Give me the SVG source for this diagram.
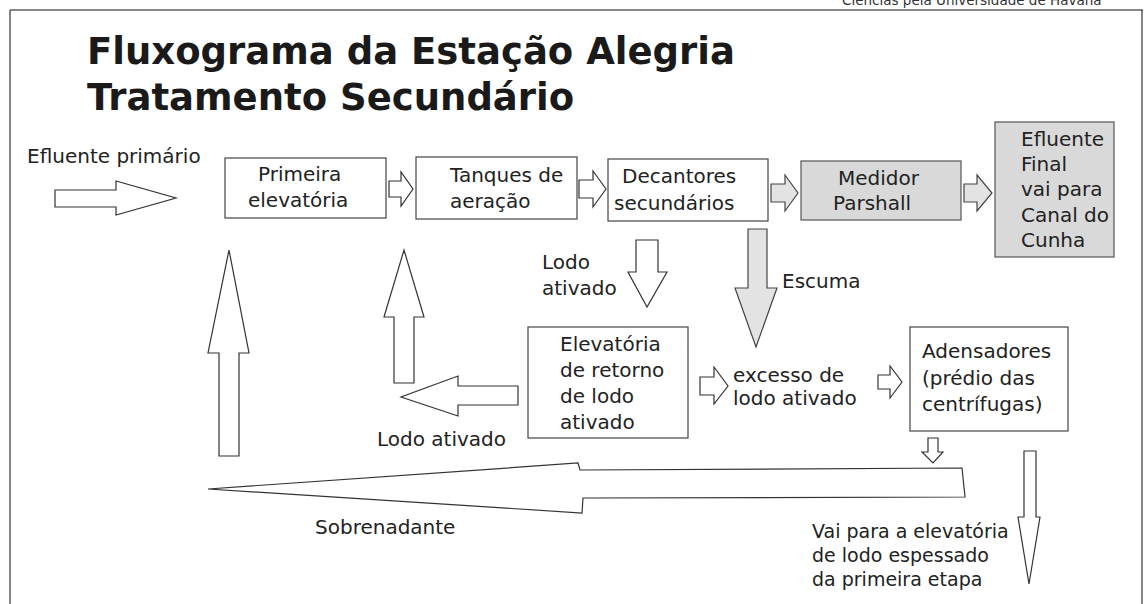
<svg xmlns="http://www.w3.org/2000/svg" width="1147" height="604" viewBox="0 0 1147 604">
<style>
text{font-family:"DejaVu Sans","Liberation Sans",sans-serif;fill:#222;font-size:20px}
.title{font-weight:bold;font-size:37px;fill:#1a1a1a}
.box{fill:#fff;stroke:#444;stroke-width:1.2}
.gbox{fill:#d9d9d9;stroke:#555;stroke-width:1.2}
.arr{fill:#fff;stroke:#333;stroke-width:1.2;stroke-linejoin:miter}
.garr{fill:#e3e3e3;stroke:#444;stroke-width:1.2}
.sm{font-size:19px}
.hdr{font-size:13.5px;fill:#333}
</style>
<rect width="1147" height="604" fill="#fff"/>
<g id="frame">
<line x1="10" y1="10" x2="1143" y2="10" stroke="#888" stroke-width="2"/>
<line x1="10" y1="10" x2="10" y2="604" stroke="#333" stroke-width="1.2"/>
<line x1="1142" y1="10" x2="1142" y2="604" stroke="#333" stroke-width="1.2"/>
<text class="hdr" x="842" y="4.5">Ciências pela Universidade de Havana</text>
</g>
<g id="title">
<text class="title" x="87" y="64">Fluxograma da Estação Alegria</text>
<text class="title" x="87" y="110">Tratamento Secundário</text>
</g>
<g id="connectors">
<polygon class="arr" points="55,190 116,190 116,181 176,198 116,215 116,207 55,207"/>
<polygon class="arr" points="389,181 401,181 401,172 413,189 401,206 401,197 389,197"/>
<polygon class="arr" points="579,180 593,180 593,171 606,189 593,207 593,198 579,198"/>
<polygon class="garr" points="771,184 785,184 785,175 798,193 785,211 785,202 771,202"/>
<polygon class="garr" points="964,184 977,184 977,175 992,193 977,211 977,202 964,202"/>
<polygon class="arr" points="636,240 658,240 658,272 667,272 647,307 628,272 636,272"/>
<polygon class="garr" points="748,229 767,229 767,288 777,288 756,347 735,288 748,288"/>
<polygon class="arr" points="219,456 219,353 208,353 229,250 249,353 239,353 239,456"/>
<polygon class="arr" points="394,383 394,317 384,317 404,250 424,317 414,317 414,383"/>
<polygon class="arr" points="518,386 458,386 458,376 401,397 458,416 458,405 518,405"/>
<polygon class="arr" points="700,377 714,377 714,367 728,386 714,404 714,395 700,395"/>
<polygon class="arr" points="878,375 890,375 890,366 902,382 890,398 890,389 878,389"/>
<polygon class="arr" points="928,438 938,438 938,452 943,452 933,463 922,452 928,452"/>
<polygon class="arr" points="1024,451 1036,451 1036,517 1040,517 1029,584 1018,517 1024,517"/>
<polygon class="arr" points="208,489 578,463 580,470 962,468 965,497 583,498 582,513"/>
</g>
<g id="label-efluente-primario"><text x="27" y="163">Efluente primário</text></g>
<g id="node-primeira">
<rect class="box" x="225" y="158" width="161" height="60"/>
<text x="258" y="181">Primeira</text>
<text x="248" y="207">elevatória</text>
</g>
<g id="node-tanques">
<rect class="box" x="416" y="157" width="161" height="62"/>
<text x="450" y="182">Tanques de</text>
<text x="450" y="208">aeração</text>
</g>
<g id="node-decantores">
<rect class="box" x="608" y="159" width="160" height="62"/>
<text x="622" y="183">Decantores</text>
<text x="614" y="210">secundários</text>
</g>
<g id="node-medidor">
<rect class="gbox" x="801" y="161" width="160" height="59"/>
<text x="838" y="185">Medidor</text>
<text x="833" y="210">Parshall</text>
</g>
<g id="node-efluente-final">
<rect class="gbox" x="995" y="122" width="119" height="135"/>
<text x="1021" y="146">Efluente</text>
<text x="1021" y="171">Final</text>
<text x="1021" y="196">vai para</text>
<text x="1021" y="222">Canal do</text>
<text x="1021" y="247">Cunha</text>
</g>
<g id="label-lodo1">
<text x="542" y="269">Lodo</text>
<text x="542" y="295">ativado</text>
</g>
<g id="label-escuma"><text x="782" y="288">Escuma</text></g>
<g id="node-elevatoria-retorno">
<rect class="box" x="528" y="327" width="160" height="111"/>
<text x="560" y="351">Elevatória</text>
<text x="560" y="377">de retorno</text>
<text x="560" y="403">de lodo</text>
<text x="560" y="429">ativado</text>
</g>
<g id="label-excesso">
<text x="733" y="382">excesso de</text>
<text x="733" y="405">lodo ativado</text>
</g>
<g id="node-adensadores">
<rect class="box" x="910" y="327" width="158" height="104"/>
<text x="922" y="358">Adensadores</text>
<text x="922" y="385">(prédio das</text>
<text x="922" y="411">centrífugas)</text>
</g>
<g id="label-lodo2"><text x="377" y="446">Lodo ativado</text></g>
<g id="label-sobrenadante"><text x="315" y="534">Sobrenadante</text></g>
<g id="label-vai-para">
<text class="sm" x="812" y="538">Vai para a elevatória</text>
<text class="sm" x="812" y="562">de lodo espessado</text>
<text class="sm" x="812" y="586">da primeira etapa</text>
</g>
</svg>
